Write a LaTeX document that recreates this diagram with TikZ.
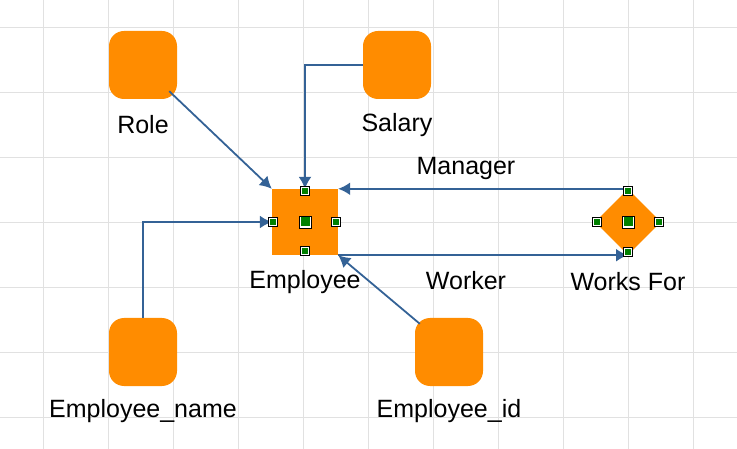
\documentclass[tikz,border=0pt]{standalone}
\usepackage{fontspec}
\setmainfont{Liberation Sans}
\usetikzlibrary{positioning}
\usetikzlibrary{shapes}
\usetikzlibrary{arrows.meta}
\definecolor{entorange}{RGB}{255,140,0}
\definecolor{linkblue}{RGB}{52,98,150}
\definecolor{gridgray}{RGB}{225,225,225}
\definecolor{handlegreen}{RGB}{0,128,0}
\tikzset{
  attr/.style={fill=entorange, rounded corners=15pt, minimum size=68pt, inner sep=0pt},
  label/.style={font=\fontsize{25}{25}\selectfont, inner sep=0pt},
  link/.style={linkblue, line width=1.8pt, -{Latex[length=12pt,width=13pt]}},
  handle/.style={draw=black, fill=white, minimum size=9pt, inner sep=0pt, path picture={\fill[handlegreen] ([shift={(-3pt,-3pt)}]path picture bounding box.center) rectangle ++(6pt,6pt);}},
  bighandle/.style={draw=black, fill=white, minimum size=12pt, inner sep=0pt, path picture={\fill[handlegreen] ([shift={(-4.5pt,-4.5pt)}]path picture bounding box.center) rectangle ++(9pt,9pt);}}
}
\begin{document}
\begin{tikzpicture}[x=1pt,y=-1pt]
\useasboundingbox (0,0) rectangle (737,449);
%grid
\foreach \gx in {43,108,...,693} \draw[gridgray, thin] (\gx,0) -- (\gx,449);
\foreach \gy in {27,92,...,427} \draw[gridgray, thin] (0,\gy) -- (737,\gy);
%attributes
\node[attr] (role) at (143,65) {};
\node[label] (rolet) at (143,125) {Role};
\node[attr] (salary) at (397,65) {};
\node[label] (salaryt) at (397,125) {Salary};
\node[attr] (ename) at (143,352) {};
\node[label] (enamet) at (143,411) {Employee\_name};
\node[attr] (eid) at (449,352) {};
\node[label] (eidt) at (449,411) {Employee\_id};
%entity and relation
\node[fill=entorange, minimum size=66pt, inner sep=0pt] (emp) at (305,222) {};
\node[label] (empt) at (305,282) {Employee};
\node[fill=entorange, diamond, minimum size=66pt, inner sep=0pt] (works) at (628,222) {};
\node[label] (workst) at (628,282) {Works For};
%links
\draw[link] (role.south east) ++(-8,-8) -- (emp.north west);
\draw[link] (salary.west) -| (emp.north);
\draw[link] (ename.north) |- (emp.west);
\draw[link] (eid.north west) ++(5,6) -- (emp.south east);
\draw[link] (works.north) -- (emp.north east);
\draw[link] (emp.south east) -- (works.south);
\node[label] (mgr) at (466,168) {Manager};
\node[label] (wkr) at (466,281) {Worker};
%handles
\foreach \hp in {(305,191),(273,222),(336,222),(305,251),(628,191),(597,222),(659,222),(628,252)}
  \node[handle] at \hp {};
\node[bighandle] (empc) at (305,222) {};
\node[bighandle] (worksc) at (628,222) {};
\end{tikzpicture}
\end{document}
